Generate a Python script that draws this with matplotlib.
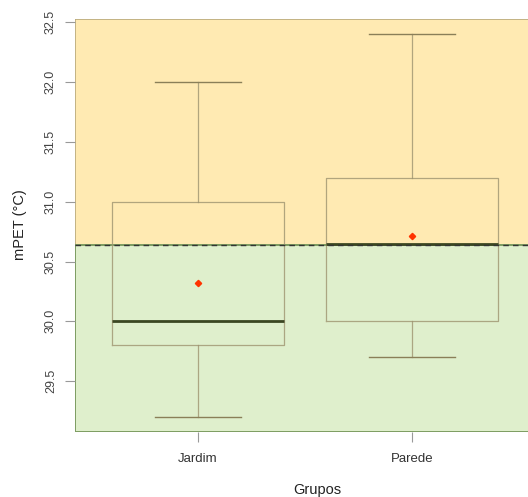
import matplotlib
matplotlib.use('Agg')
import matplotlib.pyplot as plt

# dados
grupos = ['Jardim', 'Parede']
whis_min = [29.2, 29.7]
q1 = [29.8, 30.0]
mediana = [30.0, 30.65]
q3 = [31.0, 31.2]
whis_max = [32.0, 32.4]
media = [30.32, 30.71]
limiar = 30.64

plt.rcParams['font.family'] = ['Liberation Sans', 'DejaVu Sans']

fig = plt.figure(figsize=(5.28, 4.97), dpi=100)
ax = fig.add_axes([75/528, 65/497, 485/528, 413.3/497])

ylo, yhi = 29.075, 32.53
ax.set_ylim(ylo, yhi)
ax.set_xlim(1 - 123/214, 2 + 148/214)

# fundo
ax.axhspan(limiar, yhi, facecolor='#ffeab2', edgecolor='#b9aa7c', lw=1.2, zorder=0)
ax.axhspan(ylo, limiar, facecolor='#dfefcc', edgecolor='#7d9c62', lw=1.4, zorder=0)
ax.axhline(limiar, color='#333333', lw=1, ls=(0, (4, 3)), zorder=3)

stats = []
for i in range(len(grupos)):
    stats.append({'label': grupos[i], 'whislo': whis_min[i], 'q1': q1[i], 'med': mediana[i],
                  'q3': q3[i], 'whishi': whis_max[i], 'mean': media[i], 'fliers': []})

ax.bxp(stats, positions=[1, 2], widths=0.8, showmeans=True, patch_artist=False,
       boxprops=dict(color='#9e9470', lw=0.9, alpha=0.8),
       whiskerprops=dict(color='#9e9470', lw=0.9, alpha=0.8),
       capprops=dict(color='#8a7f58', lw=1.0),
       medianprops=dict(color='#3b4722', lw=2.0),
       meanprops=dict(marker='D', markersize=3.2, markerfacecolor='#ff3300', markeredgecolor='#ff3300'),
       capwidths=0.4, manage_ticks=False, zorder=2)

for s in ax.spines.values():
    s.set_visible(False)

ax.set_yticks([29.5, 30.0, 30.5, 31.0, 31.5, 32.0, 32.5])
ax.set_yticklabels(['29.5', '30.0', '30.5', '31.0', '31.5', '32.0', '32.5'], rotation=90, va='center')
ax.set_xticks([1, 2])
ax.set_xticklabels(grupos)
ax.tick_params(axis='y', length=7, color='#999999', labelsize=9, labelcolor='#444444', pad=6)
ax.tick_params(axis='x', length=7, color='#999999', labelsize=9.5, labelcolor='#333333', pad=8)

ax.set_xlabel('Grupos', fontsize=10.5, color='#222222', labelpad=13)
fig.text(20/528, 1 - 225/497, 'mPET (°C)', rotation=90, fontsize=10.5, color='#222222',
         ha='center', va='center')

fig.savefig('out.png', dpi=100)
